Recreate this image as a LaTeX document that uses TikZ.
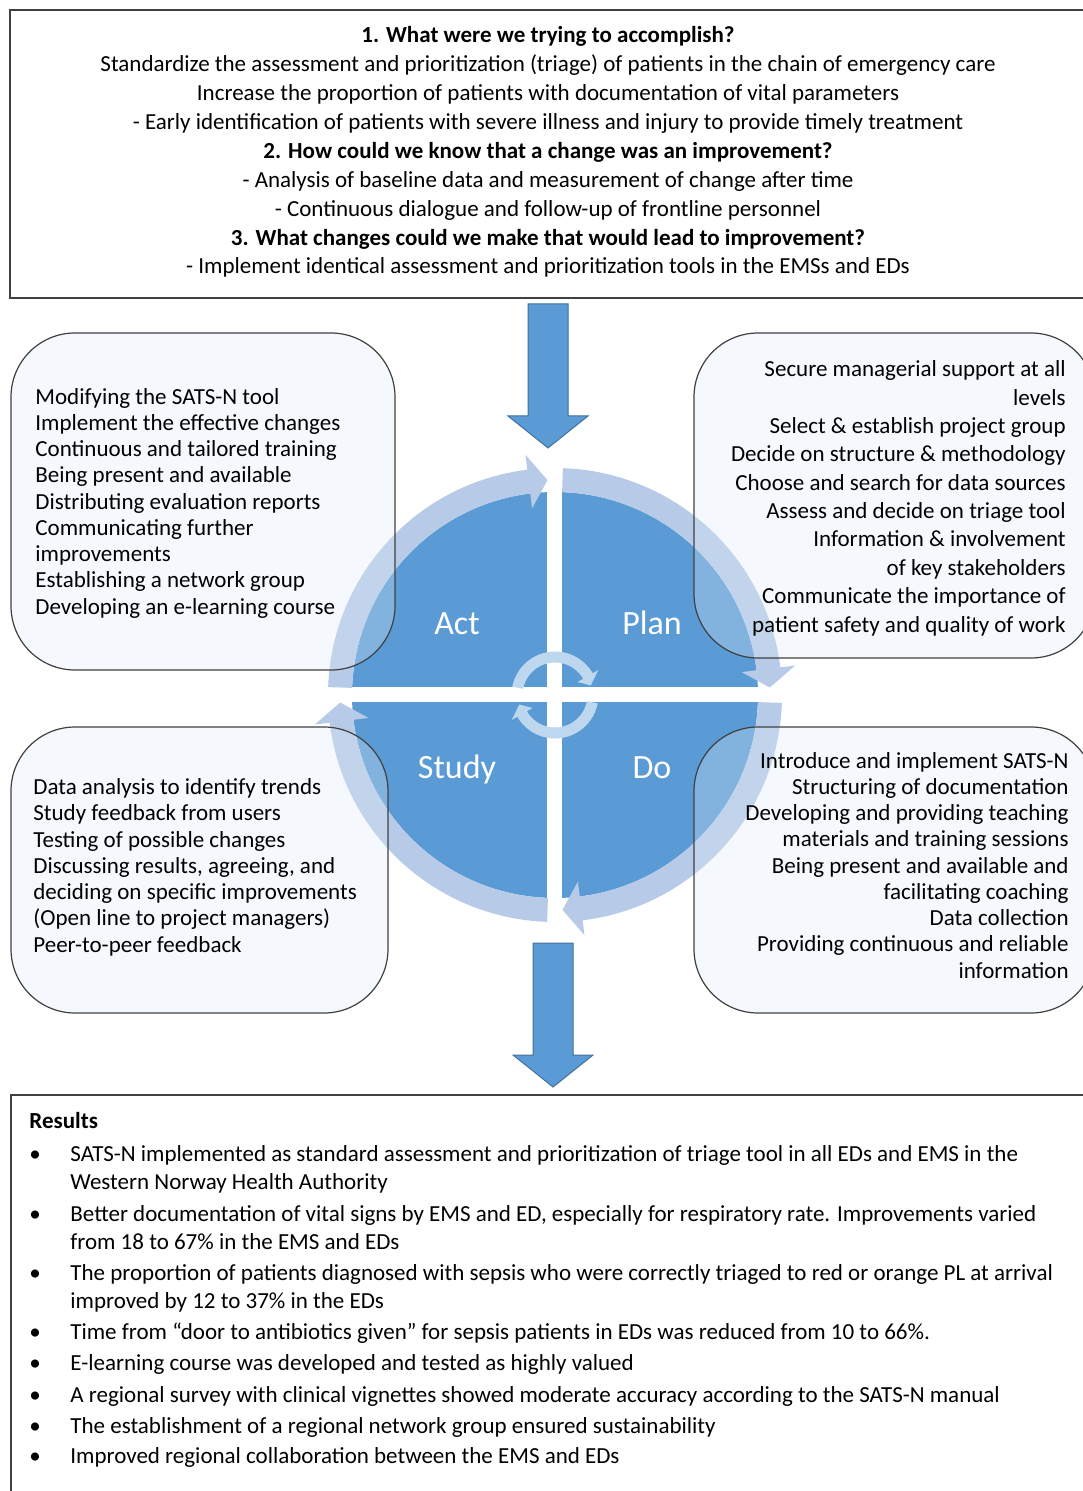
\documentclass[tikz,border=0pt]{standalone}
\usepackage{fontspec}
\setmainfont{Carlito}
\usetikzlibrary{calc}
\definecolor{pdsablue}{RGB}{91,155,213}
\definecolor{pdsaring}{RGB}{183,203,232}
\definecolor{pdsahub}{RGB}{189,215,238}
\definecolor{boxfill}{RGB}{222,235,247}
\definecolor{boxedge}{RGB}{64,64,64}
\definecolor{arrowedge}{RGB}{65,113,156}

\tikzset{
	framebox/.style={draw=boxedge, line width=0.8pt},
	phasebox/.style={draw=boxedge, line width=0.6pt, fill=boxfill, fill opacity=0.3, rounded corners=32pt},
	boxtext/.style={inner sep=0pt, font=\fontsize{11.5}{13.12}\selectfont},
	phaselabel/.style={inner sep=0pt, anchor=base, text=white, font=\fontsize{17}{20}\selectfont},
	blockarrow/.style={fill=pdsablue, draw=arrowedge, line width=0.5pt},
}

\begin{document}
\begin{tikzpicture}[x=0.5pt, y=0.5pt]
	\useasboundingbox (0,0) rectangle (1082,-1491);
	% questions (anchored at the baseline of the last line)
	\draw[framebox] (10,-10) rectangle (1095,-298);
	\node[boxtext, anchor=base, align=center, font=\fontsize{11.5}{14.45}\selectfont] (questions) at (548,-274) {%
		\textbf{1. What were we trying to accomplish?}\\
		Standardize the assessment and prioritization (triage) of patients in the chain of emergency care\\
		Increase the proportion of patients with documentation of vital parameters\\
		- Early identification of patients with severe illness and injury to provide timely treatment\\
		\textbf{2. How could we know that a change was an improvement?}\\
		- Analysis of baseline data and measurement of change after time\\
		- Continuous dialogue and follow-up of frontline personnel\\
		\textbf{3. What changes could we make that would lead to improvement?}\\
		- Implement identical assessment and prioritization tools in the EMSs and EDs};
	\draw[blockarrow] (528,-304) -- (568,-304) -- (568,-416) -- (588,-416) -- (548,-448) -- (508,-416) -- (528,-416) -- cycle;

	% cycle
	\coordinate (hub) at (555,-695);
	\fill[pdsablue] (hub) circle[radius=203];
	\fill[white] (547,-462) rectangle (562,-930);
	\fill[white] (320,-687) rectangle (790,-702);
	\begin{scope}[shift={(hub)}]
		\foreach \s in {178,88,-2,-92}{
			\pgfmathsetmacro\b{\s-81}
			\pgfmathsetmacro\t{\s-86}
			\fill[pdsaring] (\s:227) arc[start angle=\s, end angle=\b, radius=227] -- (\b:242) -- (\t:215)
				-- (\b:188) -- (\b:203) arc[start angle=\b, end angle=\s, radius=203] -- cycle;
		}
		\foreach \r in {0,180}{
			\fill[pdsahub, rotate=\r] (169:43.5) arc[start angle=169, end angle=30, radius=43.5] -- (30:50) -- (15:37)
				-- (30:26) -- (30:32.5) arc[start angle=30, end angle=169, radius=32.5] -- cycle;
		}
	\end{scope}
	\node[phaselabel] (act) at (457,-634) {Act};
	\node[phaselabel] (plan) at (652,-634) {Plan};
	\node[phaselabel] (study) at (457,-778) {Study};
	\node[phaselabel] (do) at (652,-778) {Do};

	% phase boxes
	\draw[phasebox] (11,-333) rectangle (395,-670);
	\node[boxtext, anchor=base west, align=left] (acttext) at (35,-614) {%
		Modifying the SATS-N tool\\
		Implement the effective changes\\
		Continuous and tailored training\\
		Being present and available\\
		Distributing evaluation reports\\
		Communicating further\\
		improvements\\
		Establishing a network group\\
		Developing an e-learning course};
	\draw[phasebox] (694,-333) rectangle (1095,-658);
	\node[boxtext, anchor=base east, align=right, font=\fontsize{11.5}{14.17}\selectfont] (plantext) at (1066,-632) {%
		Secure managerial support at all\\
		levels\\
		Select \& establish project group\\
		Decide on structure \& methodology\\
		Choose and search for data sources\\
		Assess and decide on triage tool\\
		Information \& involvement\\
		of key stakeholders\\
		Communicate the importance of\\
		patient safety and quality of work};
	\draw[phasebox] (11,-727) rectangle (388,-1013);
	\node[boxtext, anchor=base west, align=left] (studytext) at (33,-952) {%
		Data analysis to identify trends\\
		Study feedback from users\\
		Testing of possible changes\\
		Discussing results, agreeing, and\\
		deciding on specific improvements\\
		(Open line to project managers)\\
		Peer-to-peer feedback};
	\draw[phasebox] (694,-727) rectangle (1095,-1013);
	\node[boxtext, anchor=base east, align=right] (dotext) at (1069,-978) {%
		Introduce and implement SATS-N\\
		Structuring of documentation\\
		Developing and providing teaching\\
		materials and training sessions\\
		Being present and available and\\
		facilitating coaching\\
		Data collection\\
		Providing continuous and reliable\\
		information};

	% results
	\draw[blockarrow] (533,-943) -- (573,-943) -- (573,-1055) -- (593,-1055) -- (553,-1087) -- (513,-1055) -- (533,-1055) -- cycle;
	\draw[framebox] (11,-1095) rectangle (1095,-1500);
	\node[boxtext, anchor=base west] (results) at (29,-1128) {\textbf{Results}};
	\foreach \yb/\yl/\txt in {
		1161/1189/{SATS-N implemented as standard assessment and prioritization of triage tool in all EDs and EMS in the\\Western Norway Health Authority},
		1221/1249/{Better documentation of vital signs by EMS and ED, especially for respiratory rate. Improvements varied\\from 18 to 67\% in the EMS and EDs},
		1280/1308/{The proportion of patients diagnosed with sepsis who were correctly triaged to red or orange PL at arrival\\improved by 12 to 37\% in the EDs},
		1339/1339/{Time from “door to antibiotics given” for sepsis patients in EDs was reduced from 10 to 66\%.},
		1370/1370/{E-learning course was developed and tested as highly valued},
		1402/1402/{A regional survey with clinical vignettes showed moderate accuracy according to the SATS-N manual},
		1433/1433/{The establishment of a regional network group ensured sustainability},
		1463/1463/{Improved regional collaboration between the EMS and EDs}}{
		\node[boxtext, anchor=base west] (bullet-\yb) at (29,-\yb) {\textbullet};
		\node[boxtext, anchor=base west, align=left, font=\fontsize{11.5}{14}\selectfont] (result-\yb) at (70,-\yl) {\txt};
	}
\end{tikzpicture}
\end{document}
